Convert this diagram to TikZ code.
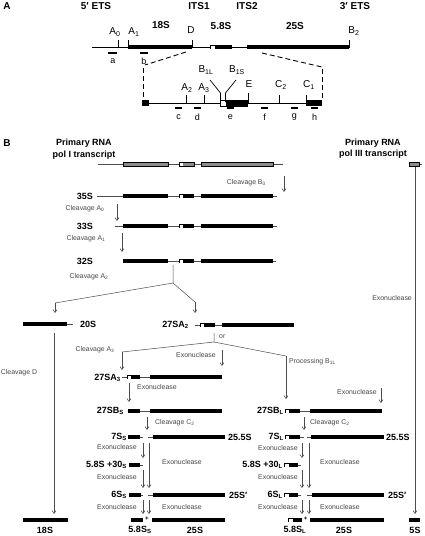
\documentclass[tikz,border=0pt]{standalone}
\usepackage{fontspec}
\setmainfont{Liberation Sans}
\usetikzlibrary{arrows.meta}
\definecolor{lnc}{gray}{0.3}
\definecolor{bargray}{gray}{0.55}
\newcommand\rnabar[3]{\fill (#1,#3-2.3) rectangle (#2,#3+2.3);}
\newcommand\rnabox[4]{\fill (#1,#4-2.3) rectangle (#3,#4+2.3);\fill[white] (#1+0.7,#4-1.5) rectangle (#2,#4+1.5);}
\newcommand\graybar[3]{\filldraw[fill=bargray,draw=black,line width=0.4pt] (#1,#3-2.1) rectangle (#2,#3+2.1);}
\tikzset{
  hdr/.style={font=\bfseries\fontsize{10}{11}\selectfont,inner sep=0pt},
  alab/.style={font=\fontsize{10}{11}\selectfont,inner sep=0pt},
  plab/.style={font=\fontsize{9}{10}\selectfont,inner sep=0pt},
  lbl/.style={font=\bfseries\fontsize{9}{10}\selectfont,inner sep=0pt},
  sm/.style={font=\fontsize{6.9}{7.5}\selectfont,text=black!72,inner sep=0pt},
  rna/.style={line width=0.7pt},
  conn/.style={draw=lnc,line width=0.5pt},
  arr/.style={draw=lnc,line width=0.5pt,-{Straight Barb[length=3pt,width=4pt]}},
  dsh/.style={line width=0.9pt,dash pattern=on 5pt off 3pt},
  probe/.style={line width=1.5pt}
}
\begin{document}
\begin{tikzpicture}[x=1pt,y=-1pt]
\useasboundingbox (0,0) rectangle (424,536);
\fill[white] (0,0) rectangle (424,536);
%% ---------------- Panel A ----------------
\node[hdr] (pA) at (7,6) {A};
\node[hdr] (h5) at (96,6) {5′ ETS};
\node[hdr] (hI1) at (199,6) {ITS1};
\node[hdr] (hI2) at (247,6) {ITS2};
\node[hdr] (h3) at (355,6) {3′ ETS};
\node[hdr] (h18) at (161,25) {18S};
\node[hdr] (h58) at (221,26) {5.8S};
\node[hdr] (h25) at (295,26) {25S};
% main line
\draw[rna] (92,47) -- (350,47);
\rnabar{128}{192}{47}
\rnabox{210}{215}{232}{47}
\rnabar{247}{349}{47}
\draw[rna] (118,40) -- (118,47);
\draw[rna] (128,40) -- (128,47);
\draw[rna] (192,40) -- (192,47);
\draw[rna] (349,40) -- (349,47);
\node[alab] (lA0) at (115,32) {A\textsubscript{0}};
\node[alab] (lA1) at (134,32) {A\textsubscript{1}};
\node[alab] (lD) at (191,30) {D};
\node[alab] (lB2) at (354,31) {B\textsubscript{2}};
\draw[probe] (108,53) -- (117,53);
\draw[probe] (140,53) -- (148,53);
\node[plab] (pa) at (113,61) {a};
\node[plab] (pb) at (144,61) {b};
% dashed zoom lines
\draw[dsh] (186,52) -- (145,65);
\draw[dsh] (143,68) -- (143,100);
\draw[dsh] (262,53) -- (322,67);
\draw[dsh] (322,69) -- (322,100);
% expanded line
\draw[rna] (142,103) -- (322,103);
\fill (142,100) rectangle (149,106);
\fill (220,99.5) rectangle (248,106.5);
\fill[white] (221,100.5) rectangle (226,105.5);
\fill (306,100) rectangle (322,106);
\draw[rna] (186,95) -- (186,103);
\draw[rna] (204,95) -- (204,103);
\draw[rna] (248,93) -- (248,103);
\draw[rna] (279,95) -- (279,103);
\draw[rna] (306,95) -- (306,103);
\draw[rna] (210,80) -- (220.5,93) -- (220.5,102);
\draw[rna] (236,80) -- (225.5,93) -- (225.5,102);
\node[alab] (lA2) at (187,88) {A\textsubscript{2}};
\node[alab] (lA3) at (204,88) {A\textsubscript{3}};
\node[alab] (lB1L) at (206,70) {B\textsubscript{1L}};
\node[alab] (lB1S) at (237,70) {B\textsubscript{1S}};
\node[alab] (lE) at (249,84) {E};
\node[alab] (lC2) at (281,85) {C\textsubscript{2}};
\node[alab] (lC1) at (309,85) {C\textsubscript{1}};
\draw[probe] (175,108) -- (182,108);
\draw[probe] (194,108) -- (201,108);
\draw[probe] (227,108) -- (234,108);
\draw[probe] (261,108) -- (268,108);
\draw[probe] (291,108) -- (298,108);
\draw[probe] (311,108) -- (318,108);
\node[plab] (pc) at (178.5,117) {c};
\node[plab] (pd) at (197.5,117) {d};
\node[plab] (pe) at (230.5,117) {e};
\node[plab] (pf) at (264.5,117) {f};
\node[plab] (pg) at (294.5,117) {g};
\node[plab] (ph) at (314.5,117) {h};
%% ---------------- Panel B ----------------
\node[hdr] (pB) at (7,143) {B};
\node[lbl] (t1a) at (84,143) {Primary RNA};
\node[lbl] (t1b) at (84,155) {pol I transcript};
\node[lbl] (t3a) at (373,143) {Primary RNA};
\node[lbl] (t3b) at (373,154) {pol III transcript};
% primary transcript
\draw[conn] (98,164) -- (283,164);
\graybar{123}{168}{164}
\graybar{179}{194}{164}
\fill[white] (179.8,162.5) rectangle (183,165.5);
\graybar{201}{273}{164}
% pol III
\draw[conn] (419,164) -- (422,164);
\graybar{409}{419}{164}
\draw[arr] (415,167) -- (415,514);
\node[sm,anchor=east] (ex5) at (412,298) {Exonuclease};
\rnabar{409}{420}{520}
\node[lbl] (l5S) at (415,530) {5S};
% 35S
\node[sm,anchor=east] (cB0) at (266,183) {Cleavage B\textsubscript{0}};
\draw[arr] (284,176) -- (284,192);
\node[lbl,anchor=east] (l35) at (93,196) {35S};
\draw[conn] (97,196) -- (277,196);
\rnabar{123}{168}{196}
\rnabox{179}{183}{194}{196}
\rnabar{201}{273}{196}
\node[sm] (cA0) at (85,209) {Cleavage A\textsubscript{0}};
\draw[arr] (117,204) -- (117,221);
% 33S
\node[lbl,anchor=east] (l33) at (93,226) {33S};
\draw[conn] (115,226) -- (277,226);
\rnabar{123}{168}{226}
\rnabox{179}{183}{194}{226}
\rnabar{201}{273}{226}
\node[sm] (cA1) at (86,239) {Cleavage A\textsubscript{1}};
\draw[arr] (122,233) -- (122,252);
% 32S
\node[lbl,anchor=east] (l32) at (93,261) {32S};
\draw[conn] (123,261) -- (276,261);
\rnabar{123}{168}{261}
\rnabox{179}{183}{194}{261}
\rnabar{201}{273}{261}
\node[sm] (cA2) at (89,277) {Cleavage A\textsubscript{2}};
\coordinate (s32) at (173,265);
\coordinate (k32) at (173,283);
\coordinate (kl) at (55,303);
\coordinate (kr) at (195,302);
\draw[conn] (s32) -- (k32) -- (kl);
\draw[conn] (k32) -- (kr);
\draw[arr] (kl) -- (55,313);
\draw[arr] (kr) -- (195,313);
% 20S
\draw[conn] (67,324) -- (73,324);
\rnabar{23}{67}{324}
\node[lbl,anchor=west] (l20) at (80,324) {20S};
\node[sm] (cD) at (19,373) {Cleavage D};
\draw[arr] (54,333) -- (54,514);
% 27SA2
\node[lbl,anchor=east] (l27A2) at (189,325) {27SA\textsubscript{2}};
\draw[conn] (195,325) -- (222,325);
\rnabox{200}{204}{215}{325}
\rnabar{222}{294}{325}
\coordinate (or1) at (214,333);
\coordinate (or2) at (214,342);
\coordinate (kA3) at (122,352);
\coordinate (kB1) at (286,356);
\draw[conn] (or1) -- (or2) -- (kA3);
\draw[conn] (or2) -- (kB1);
\node[sm,anchor=west] (tor) at (219,337) {or};
\draw[arr] (kA3) -- (122,370);
\draw[arr] (kB1) -- (286,399);
\node[sm] (cA3) at (95,350) {Cleavage A\textsubscript{3}};
\node[sm] (exm) at (196,355) {Exonuclease};
\draw[arr] (222,350) -- (222,366);
\node[sm,anchor=west] (pB1L) at (289,362) {Processing B\textsubscript{1L}};
% 27SA3
\node[lbl,anchor=east] (l27A3) at (121,378) {27SA\textsubscript{3}};
\draw[conn] (122,377) -- (150,377);
\rnabox{127}{131}{140}{377}
\rnabar{150}{222}{377}
\node[sm,anchor=west] (ex3) at (137,387) {Exonuclease};
\draw[arr] (129,383) -- (129,402);
% 27SBS
\node[lbl,anchor=east] (l27BS) at (124,411) {27SB\textsubscript{S}};
\draw[conn] (140,411) -- (150,411);
\rnabar{128}{140}{411}
\rnabar{150}{222}{411}
\node[sm,anchor=west] (cC2s) at (155,423) {Cleavage C\textsubscript{2}};
\draw[arr] (147,417) -- (147,430);
% 7SS
\node[lbl,anchor=east] (l7S) at (127,437) {7S\textsubscript{S}};
\rnabar{128}{140}{437}
\draw[conn] (140,437) -- (143,437);
\draw[conn] (148,437) -- (153,437);
\rnabar{153}{225}{437}
\node[lbl,anchor=west] (l255s) at (228,437) {25.5S};
\node[sm] (exs1) at (117,447) {Exonuclease};
\node[sm] (exs2) at (117,477) {Exonuclease};
\node[sm] (exs3) at (117,507) {Exonuclease};
\node[sm] (exs4) at (182,462) {Exonuclease};
\node[sm] (exs5) at (182,507) {Exonuclease};
\draw[arr] (143,443) -- (143,458);
\draw[arr] (143,470) -- (143,488);
\draw[arr] (143,500) -- (143,514);
\draw[arr] (149,443) -- (149,488);
\draw[arr] (149,500) -- (149,514);
% 5.8S+30S
\node[lbl,anchor=east] (l30s) at (127,465) {5.8S +30\textsubscript{S}};
\rnabar{129}{140}{465}
\draw[conn] (140,465) -- (143,465);
% 6SS
\node[lbl,anchor=east] (l6s) at (127,495) {6S\textsubscript{S}};
\rnabar{129}{141}{495}
\draw[conn] (141,495) -- (143,495);
\draw[conn] (148,495) -- (153,495);
\rnabar{153}{225}{495}
\node[lbl,anchor=west] (l25ps) at (229,495) {25S′};
% final S
\rnabar{23}{68}{520}
\node[lbl] (l18) at (45,530) {18S};
\rnabar{131}{143}{520}
\node[lbl] (plus1) at (146.8,519) {\fontsize{6}{6}\selectfont +};
\rnabar{152}{225}{520}
\node[lbl] (l58s) at (140,530) {5.8S\textsubscript{S}};
\node[lbl] (l25s) at (195,530) {25S};
% ---- L branch ----
\node[sm] (exr) at (357,392) {Exonuclease};
\draw[arr] (381,388) -- (381,403);
\node[lbl,anchor=east] (l27BL) at (284,411) {27SB\textsubscript{L}};
\draw[conn] (300,411) -- (310,411);
\rnabox{285}{289}{300}{411}
\rnabar{310}{382}{411}
\node[sm,anchor=west] (cC2l) at (310,423) {Cleavage C\textsubscript{2}};
\draw[arr] (304,417) -- (304,430);
% 7SL
\node[lbl,anchor=east] (l7L) at (284,437) {7S\textsubscript{L}};
\rnabox{285}{289}{300}{437}
\draw[conn] (300,437) -- (304,437);
\draw[conn] (307,437) -- (311,437);
\rnabar{311}{384}{437}
\node[lbl,anchor=west] (l255l) at (386,437) {25.5S};
\node[sm] (exl1) at (278,448) {Exonuclease};
\node[sm] (exl2) at (278,477) {Exonuclease};
\node[sm] (exl3) at (278,507) {Exonuclease};
\node[sm] (exl4) at (340,462) {Exonuclease};
\node[sm] (exl5) at (340,507) {Exonuclease};
\draw[arr] (302,443) -- (302,458);
\draw[arr] (302,470) -- (302,488);
\draw[arr] (302,500) -- (302,514);
\draw[arr] (309,443) -- (309,488);
\draw[arr] (309,500) -- (309,514);
% 5.8S+30L
\node[lbl,anchor=east] (l30l) at (283,465) {5.8S +30\textsubscript{L}};
\rnabox{284}{289}{298}{465}
\draw[conn] (298,465) -- (301,465);
% 6SL
\node[lbl,anchor=east] (l6l) at (283,495) {6S\textsubscript{L}};
\rnabox{284}{289}{298}{495}
\draw[conn] (298,495) -- (301,495);
\draw[conn] (307,495) -- (312,495);
\rnabar{312}{384}{495}
\node[lbl,anchor=west] (l25pl) at (388,495) {25S′};
% final L
\rnabox{288}{293}{302}{520}
\node[lbl] (plus2) at (305.5,519) {\fontsize{6}{6}\selectfont +};
\rnabar{310}{384}{520}
\node[lbl] (l58l) at (295,530) {5.8S\textsubscript{L}};
\node[lbl] (l25l) at (344,530) {25S};
\end{tikzpicture}
\end{document}
